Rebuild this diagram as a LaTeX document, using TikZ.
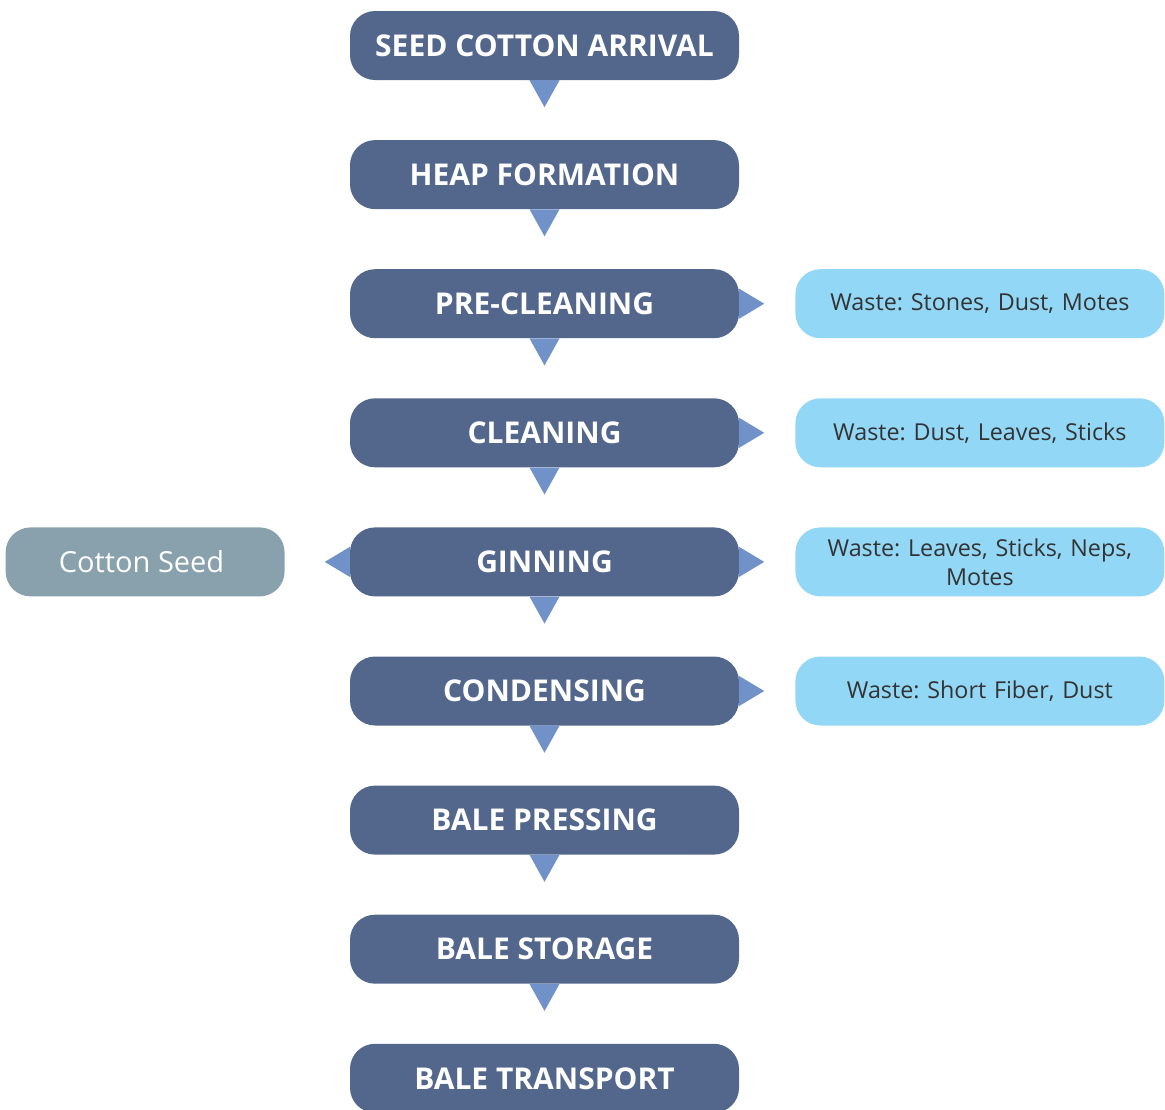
\documentclass[tikz,border=0pt]{standalone}
\usepackage{fontspec}
\setmainfont{Open Sans}
\usepackage{tikz}
\usetikzlibrary{positioning}
\definecolor{stepblue}{RGB}{83,102,140}
\definecolor{pointerblue}{RGB}{113,145,201}
\definecolor{wasteblue}{RGB}{146,215,245}
\definecolor{seedgrey}{RGB}{137,161,172}
\definecolor{wastetext}{RGB}{51,51,51}
\frenchspacing
\tikzset{
    step-box/.style = {fill=stepblue, text=white, font=\fontsize{30}{36}\selectfont\bfseries, rectangle, rounded corners=25pt, minimum width=389pt, minimum height=69pt, inner sep=0pt},
    waste-box/.style = {fill=wasteblue, text=wastetext, font=\fontsize{23.3}{29}\selectfont, rectangle, rounded corners=25pt, minimum width=369pt, minimum height=69pt, text width=350pt, align=center, inner sep=0pt},
    seed-box/.style = {fill=seedgrey, text=white, font=\fontsize{29}{34}\selectfont, rectangle, rounded corners=25pt, minimum width=279pt, minimum height=69pt, inner sep=0pt},
    pointer/.style = {fill=pointerblue},
}
\begin{document}
\begin{tikzpicture}[x=1pt, y=1pt]
\useasboundingbox (0,0) rectangle (1165,-1109);
% main chain
\node [step-box] (arrival) at (544.5,-45.5) {SEED COTTON ARRIVAL};
\node [step-box, below=59.7pt of arrival] (heap) {HEAP FORMATION};
\node [step-box, below=59.7pt of heap] (precleaning) {PRE-CLEANING};
\node [step-box, below=59.7pt of precleaning] (cleaning) {CLEANING};
\node [step-box, below=59.7pt of cleaning] (ginning) {GINNING};
\node [step-box, below=59.7pt of ginning] (condensing) {CONDENSING};
\node [step-box, below=59.7pt of condensing] (pressing) {BALE PRESSING};
\node [step-box, below=59.7pt of pressing] (storage) {BALE STORAGE};
\node [step-box, below=59.7pt of storage] (transport) {BALE TRANSPORT};
% side outputs
\node [waste-box, right=56pt of precleaning] (waste-pre) {Waste: Stones, Dust, Motes};
\node [waste-box, right=56pt of cleaning] (waste-clean) {Waste: Dust, Leaves, Sticks};
\node [waste-box, right=56pt of ginning] (waste-gin) {Waste: Leaves, Sticks, Neps,\\Motes};
\node [waste-box, right=56pt of condensing] (waste-cond) {Waste: Short Fiber, Dust};
\node [seed-box, left=65pt of ginning] (seed) {\hspace*{-7pt}Cotton Seed};
% pointers
\foreach \n in {arrival,heap,precleaning,cleaning,ginning,condensing,pressing,storage}
    \fill [pointer] ([xshift=-15pt]\n.south) -- ([xshift=15pt]\n.south) -- ([yshift=-27pt]\n.south) -- cycle;
\foreach \n in {precleaning,cleaning,ginning,condensing}
    \fill [pointer] ([yshift=15pt]\n.east) -- ([yshift=-15pt]\n.east) -- ([xshift=25pt]\n.east) -- cycle;
\fill [pointer] ([yshift=15pt]ginning.west) -- ([yshift=-15pt]ginning.west) -- ([xshift=-25pt]ginning.west) -- cycle;
\end{tikzpicture}
\end{document}
